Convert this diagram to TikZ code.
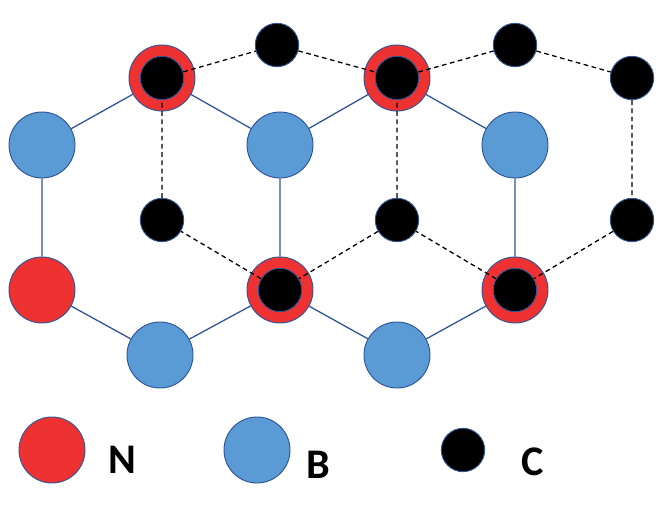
\documentclass[tikz,border=0pt]{standalone}
\usepackage{fontspec}
\setmainfont{Carlito}
\definecolor{nred}{RGB}{238,50,50}
\definecolor{bblue}{RGB}{91,155,213}
\definecolor{rim}{RGB}{47,85,151}
\begin{document}
\begin{tikzpicture}[
		x=0.03cm, y=-0.03cm,
		bond/.style = {rim, line width=1.1pt}, % B-N bonds
		cbond/.style = {black, line width=1.1pt, dash pattern=on 4pt off 3pt}, % carbon bonds
		atomN/.style = {circle, draw=rim, line width=0.8pt, fill=nred, minimum size=1.98cm, inner sep=0pt},
		atomB/.style = {circle, draw=rim, line width=0.8pt, fill=bblue, minimum size=1.98cm, inner sep=0pt},
		atomC/.style = {circle, draw=rim, line width=0.8pt, fill=black, minimum size=1.3cm, inner sep=0pt},
		lbl/.style = {font=\fontsize{36}{40}\selectfont\bfseries}
		]
		\useasboundingbox (0,0) rectangle (664,506);
		
		% B-N layer
		\node[atomN] (n1) at (162,78) {};
		\node[atomN] (n2) at (397,78) {};
		\node[atomB] (b1) at (42,145) {};
		\node[atomB] (b2) at (280,145) {};
		\node[atomB] (b3) at (515,145) {};
		\node[atomN] (n3) at (42,290) {};
		\node[atomN] (n4) at (280,290) {};
		\node[atomN] (n5) at (515,290) {};
		\node[atomB] (b4) at (160,355) {};
		\node[atomB] (b5) at (397,355) {};
		
		% carbon layer
		\node[atomC] (c1) at (162,78) {};
		\node[atomC] (c2) at (277,45) {};
		\node[atomC] (c3) at (397,78) {};
		\node[atomC] (c4) at (515,45) {};
		\node[atomC] (c5) at (632,78) {};
		\node[atomC] (c6) at (632,220) {};
		\node[atomC] (c7) at (515,290) {};
		\node[atomC] (c8) at (397,220) {};
		\node[atomC] (c9) at (280,290) {};
		\node[atomC] (c10) at (162,220) {};
		
		\draw[bond] (n1) -- (b1) (n1) -- (b2) (n2) -- (b2) (n2) -- (b3)
		(b1) -- (n3) (b2) -- (n4) (b3) -- (n5)
		(n3) -- (b4) (b4) -- (n4) (n4) -- (b5) (b5) -- (n5);
		
		\draw[cbond] (c1) -- (c2) -- (c3) -- (c4) -- (c5) -- (c6) -- (c7)
		-- (c8) -- (c9) -- (c10) -- (c1) (c8) -- (c3);
		
		% legend
		\node[atomN] (ln) at (52,450) {};
		\node[lbl] (tn) at (122,460) {N};
		\node[atomB] (lb) at (257,450) {};
		\node[lbl] (tb) at (318,465) {B};
		\node[atomC] (lc) at (463,450) {};
		\node[lbl] (tc) at (533,462) {C};
	\end{tikzpicture}
\end{document}
